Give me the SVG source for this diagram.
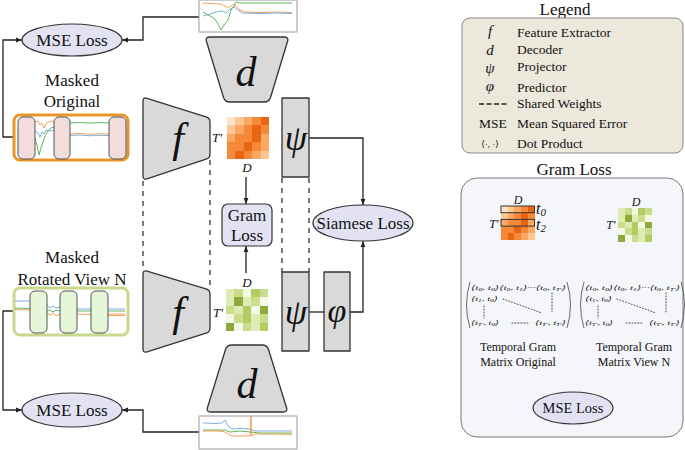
<svg xmlns="http://www.w3.org/2000/svg" xmlns:xlink="http://www.w3.org/1999/xlink" width="685" height="450" viewBox="0 0 685 450">
<style>
text{font-family:"Liberation Serif","DejaVu Serif",serif;fill:#111}
.lbl{font-size:17px;text-anchor:middle}
.math{font-style:italic;text-anchor:middle}
.blk{fill:#d9d9d9;stroke:#333;stroke-width:1.3;stroke-linejoin:round}
.loss{fill:#e2e2f2;stroke:#333;stroke-width:1.2}
.con{fill:none;stroke:#222;stroke-width:1.3}
.arr{marker-end:url(#ah)}
.dash{fill:none;stroke:#222;stroke-width:1.2;stroke-dasharray:5 5}
.ts{fill:none;stroke-width:0.8}
.or{stroke:#f28a2e}.bl{stroke:#5b9bd5}.gr{stroke:#3aa23a}
.pink{fill:#f3dcdc;stroke:#555;stroke-width:1}
.lgr{fill:#e6f6d9;stroke:#555;stroke-width:1}
.leg{font-size:13.5px}
.mx{font-size:6.6px;font-style:italic}
.dot{fill:none;stroke:#333;stroke-width:0.9;stroke-dasharray:0.9 2.1;stroke-linecap:round}
.o1{fill:#fde5cb}.o2{fill:#fcc793}.o3{fill:#faa862}.o4{fill:#f6883a}.o5{fill:#e8660f}
.g1{fill:#f4f8e4}.g2{fill:#e0ebb4}.g3{fill:#cbdd8c}.g4{fill:#b2cb62}.g5{fill:#90a93c}
</style>
<defs>
<marker id="ah" viewBox="0 0 10 10" refX="10" refY="5" markerWidth="6" markerHeight="6" orient="auto-start-reverse" markerUnits="userSpaceOnUse"><path d="M0,1 L10,5 L0,9 z" fill="#222"/></marker>
<g id="og" shape-rendering="crispEdges">
<rect class="o1" x="0" y="0" width="1.02" height="1.02"/><rect class="o2" x="1" y="0" width="1.02" height="1.02"/><rect class="o3" x="2" y="0" width="1.02" height="1.02"/><rect class="o4" x="3" y="0" width="1.02" height="1.02"/><rect class="o5" x="4" y="0" width="1" height="1.02"/>
<rect class="o2" x="0" y="1" width="1.02" height="1.02"/><rect class="o3" x="1" y="1" width="1.02" height="1.02"/><rect class="o4" x="2" y="1" width="1.02" height="1.02"/><rect class="o5" x="3" y="1" width="1.02" height="1.02"/><rect class="o4" x="4" y="1" width="1" height="1.02"/>
<rect class="o3" x="0" y="2" width="1.02" height="1.02"/><rect class="o4" x="1" y="2" width="1.02" height="1.02"/><rect class="o4" x="2" y="2" width="1.02" height="1.02"/><rect class="o5" x="3" y="2" width="1.02" height="1.02"/><rect class="o3" x="4" y="2" width="1" height="1.02"/>
<rect class="o4" x="0" y="3" width="1.02" height="1.02"/><rect class="o4" x="1" y="3" width="1.02" height="1.02"/><rect class="o5" x="2" y="3" width="1.02" height="1.02"/><rect class="o4" x="3" y="3" width="1.02" height="1.02"/><rect class="o3" x="4" y="3" width="1" height="1.02"/>
<rect class="o4" x="0" y="4" width="1.02" height="1"/><rect class="o5" x="1" y="4" width="1.02" height="1"/><rect class="o4" x="2" y="4" width="1.02" height="1"/><rect class="o3" x="3" y="4" width="1.02" height="1"/><rect class="o2" x="4" y="4" width="1" height="1"/>
</g>
<g id="gg" shape-rendering="crispEdges">
<rect class="g2" x="0" y="0" width="1.02" height="1.02"/><rect class="g3" x="1" y="0" width="1.02" height="1.02"/><rect class="g1" x="2" y="0" width="1.02" height="1.02"/><rect class="g4" x="3" y="0" width="1.02" height="1.02"/><rect class="g3" x="4" y="0" width="1" height="1.02"/>
<rect class="g2" x="0" y="1" width="1.02" height="1.02"/><rect class="g5" x="1" y="1" width="1.02" height="1.02"/><rect class="g2" x="2" y="1" width="1.02" height="1.02"/><rect class="g3" x="3" y="1" width="1.02" height="1.02"/><rect class="g1" x="4" y="1" width="1" height="1.02"/>
<rect class="g3" x="0" y="2" width="1.02" height="1.02"/><rect class="g2" x="1" y="2" width="1.02" height="1.02"/><rect class="g4" x="2" y="2" width="1.02" height="1.02"/><rect class="g1" x="3" y="2" width="1.02" height="1.02"/><rect class="g5" x="4" y="2" width="1" height="1.02"/>
<rect class="g1" x="0" y="3" width="1.02" height="1.02"/><rect class="g3" x="1" y="3" width="1.02" height="1.02"/><rect class="g4" x="2" y="3" width="1.02" height="1.02"/><rect class="g2" x="3" y="3" width="1.02" height="1.02"/><rect class="g3" x="4" y="3" width="1" height="1.02"/>
<rect class="g5" x="0" y="4" width="1.02" height="1"/><rect class="g1" x="1" y="4" width="1.02" height="1"/><rect class="g3" x="2" y="4" width="1.02" height="1"/><rect class="g2" x="3" y="4" width="1.02" height="1"/><rect class="g4" x="4" y="4" width="1" height="1"/>
</g>
</defs>
<rect width="685" height="450" fill="#fff"/>

<g id="connectors">
<path class="con arr" d="M199,17 H143 V40 H122"/>
<path class="con arr" d="M14,137 H3 V40 H22"/>
<path class="con arr" d="M246,177 V204"/>
<path class="con arr" d="M246,273 V246"/>
<path class="con arr" d="M309,138 H363 V205"/>
<path class="con" d="M309,312 H324"/>
<path class="con arr" d="M350,312 H363 V241"/>
<path class="con arr" d="M199,432 H143 V410 H122"/>
<path class="con arr" d="M14,311 H3 V410 H22"/>
<path class="dash" d="M143,181 V270"/>
<path class="dash" d="M210,160 V290"/>
<path class="dash" d="M282,178 V272"/>
<path class="dash" d="M309,178 V272"/>
<path class="con arr" d="M518,241 V280"/>
<path class="con arr" d="M635,243 V280"/>
<path class="con arr" d="M518,369 V408 H533"/>
<path class="con arr" d="M634,369 V408 H613"/>
</g>

<g id="mse-top">
<ellipse class="loss" cx="72" cy="40" rx="50" ry="16"/>
<text class="lbl" x="72" y="46">MSE Loss</text>
</g>

<g id="masked-original">
<text class="lbl" x="72" y="86">Masked</text>
<text class="lbl" x="72" y="107">Original</text>
<rect x="14" y="115" width="114" height="45" rx="6" fill="#fff" stroke="#e8962a" stroke-width="3"/>
<path class="ts or" d="M35,122 L38,121 L40,125 L42,123 L44,128 L46,124 L48,122 L52,121 L54,122"/>
<path class="ts bl" d="M35,131 L38,133 L40,137 L42,132 L44,134 L46,130 L50,131 L54,130"/>
<path class="ts gr" d="M35,138 L37,145 L39,155 L41,148 L43,142 L45,136 L48,131 L51,128 L54,127"/>
<path class="ts gr" d="M70,123 L80,122.5 L90,123.2 L100,122.6 L109,123"/>
<path class="ts or" d="M70,134 L80,133.5 L90,134.3 L100,133.7 L109,134"/>
<path class="ts bl" d="M70,135.5 L80,135 L90,135.8 L100,135.3 L109,135.6"/>
<rect class="pink" x="18" y="117" width="17" height="42" rx="5"/>
<rect class="pink" x="54" y="117" width="16" height="42" rx="5"/>
<rect class="pink" x="109" y="117" width="17" height="42" rx="5"/>
</g>

<g id="recon-top">
<rect x="199" y="0" width="98" height="32" fill="#fff" stroke="#999" stroke-width="1"/>
<path class="ts or" d="M203,3 L212,3.5 L220,4 L225,6 L228,8 L231,6 L234,4 L237,7 L240,10 L245,12 L260,12.5 L275,12 L292,12.5"/>
<path class="ts bl" d="M203,16 L210,14 L216,12 L222,11 L226,13 L230,9 L234,7 L238,10 L242,13 L260,13.5 L275,13 L292,13.5"/>
<path class="ts gr" d="M203,12 L208,15 L214,18 L218,24 L221,30 L224,25 L228,20 L231,10 L234,6 L236,2 L240,3 L260,3 L275,3 L292,3"/>
</g>

<g id="decoder-top">
<path class="blk" d="M210,37 L284,37 Q289,37 287.5,41.5 L270.5,97.5 Q269,102 264,102 L230,102 Q225,102 223.5,97.5 L206.5,41.5 Q205,37 210,37 Z"/>
<text class="math" x="246" y="86" font-size="42">d</text>
</g>

<g id="extractor-top">
<path class="blk" d="M143,101 Q143,97 147,98.3 L206,116.8 Q210,118 210,122 L210,154 Q210,158 206,159.2 L147,178.8 Q143,180 143,176 Z"/>
<text class="math" x="178" y="152" font-size="42">f</text>
</g>

<g id="gram-orange">
<use xlink:href="#og" href="#og" transform="translate(227,117) scale(8.4)"/>
<text class="math" x="217" y="142" font-size="13">T′</text>
<text class="math" x="247" y="172" font-size="13">D</text>
</g>

<g id="projector-top">
<rect class="blk" x="282" y="98" width="27" height="79"/>
<text class="math" x="296" y="150" font-size="36">ψ</text>
</g>

<g id="gram-loss">
<rect class="loss" x="222" y="204" width="50" height="42" rx="6"/>
<text class="lbl" x="247" y="221">Gram</text>
<text class="lbl" x="247" y="241">Loss</text>
</g>

<g id="siamese-loss">
<ellipse class="loss" cx="363" cy="223" rx="50" ry="18"/>
<text class="lbl" x="363" y="229" font-size="17.5">Siamese Loss</text>
</g>

<g id="masked-rotated">
<text class="lbl" x="72" y="263">Masked</text>
<text class="lbl" x="72" y="285">Rotated View N</text>
<rect x="14" y="288" width="114" height="47" rx="6" fill="#fff" stroke="#c8d98f" stroke-width="3"/>
<path class="ts bl" d="M15,301 L30,301"/>
<path class="ts gr" d="M15,308 L30,308.5"/>
<path class="ts or" d="M15,309.5 L30,310"/>
<path class="ts bl" d="M47,305 L50,308 L53,306 L56,308 L60,307"/>
<path class="ts gr" d="M47,311 L50,310 L53,312 L56,310 L60,311"/>
<path class="ts or" d="M47,313 L50,315 L53,313 L56,316 L60,314"/>
<path class="ts bl" d="M77,309 L91,309"/>
<path class="ts gr" d="M77,311 L91,311"/>
<path class="ts or" d="M77,314 L91,314.5"/>
<path class="ts bl" d="M108,309 L125,309"/>
<path class="ts gr" d="M108,311 L125,311"/>
<path class="ts or" d="M108,314 L125,314 M108,315.5 L125,315.5"/>
<rect class="lgr" x="30" y="291" width="17" height="42" rx="5"/>
<rect class="lgr" x="60" y="291" width="17" height="42" rx="5"/>
<rect class="lgr" x="91" y="291" width="17" height="42" rx="5"/>
</g>

<g id="extractor-bottom">
<path class="blk" d="M143,274 Q143,270 147,271.2 L206,288.8 Q210,290 210,294 L210,328 Q210,332 206,333.2 L147,351.8 Q143,353 143,349 Z"/>
<text class="math" x="178" y="326" font-size="42">f</text>
</g>

<g id="gram-green">
<use xlink:href="#gg" href="#gg" transform="translate(226,289) scale(8.4)"/>
<text class="math" x="247" y="287" font-size="13">D</text>
<text class="math" x="218" y="317" font-size="13">T′</text>
</g>

<g id="projector-bottom">
<rect class="blk" x="282" y="272" width="27" height="79"/>
<text class="math" x="296" y="324" font-size="36">ψ</text>
</g>

<g id="predictor">
<rect class="blk" x="324" y="272" width="26" height="79"/>
<text class="math" x="337" y="322" font-size="34">φ</text>
</g>

<g id="decoder-bottom">
<path class="blk" d="M232,345 L262,345 Q267,345 268.5,349.5 L286.5,407.5 Q288,412 283,412 L211,412 Q206,412 207.5,407.5 L225.5,349.5 Q227,345 232,345 Z"/>
<text class="math" x="247" y="398" font-size="42">d</text>
</g>

<g id="recon-bottom">
<rect x="199" y="416" width="98" height="33" fill="#fff" stroke="#999" stroke-width="1"/>
<path class="ts bl" d="M203,423 L215,423.5 L222,423 L225,420 L228,426 L232,429 L240,428.5 L250,429 L255,431 L275,431 L292,431"/>
<path class="ts gr" d="M203,430 L215,430 L225,430 L230,432 L240,431 L250,432 L260,433 L275,433 L292,433"/>
<path class="ts or" d="M203,431 L215,431 L224,431.5 L228,434 L232,436 L240,436 L250,436 L251,416 L251.5,436 L255,434 L275,434 L292,434.5"/>
</g>

<g id="mse-bottom">
<ellipse class="loss" cx="72" cy="410" rx="50" ry="17"/>
<text class="lbl" x="72" y="416">MSE Loss</text>
</g>

<g id="legend">
<text class="lbl" x="565" y="15" font-size="16">Legend</text>
<rect x="462" y="18" width="221" height="135" rx="8" fill="#ede8dc" stroke="#888" stroke-width="1"/>
<text class="math" x="490" y="36" font-size="15">f</text>
<text class="leg" x="517" y="37">Feature Extractor</text>
<text class="math" x="490" y="55" font-size="15">d</text>
<text class="leg" x="517" y="54">Decoder</text>
<text class="math" x="490" y="73" font-size="15">ψ</text>
<text class="leg" x="517" y="71">Projector</text>
<text class="math" x="490" y="91" font-size="15">φ</text>
<text class="leg" x="517" y="92">Predictor</text>
<path d="M479,104 H509" stroke="#222" stroke-width="1.4" stroke-dasharray="5 2.5" fill="none"/>
<text class="leg" x="517" y="108">Shared Weights</text>
<text class="leg" x="493" y="128" text-anchor="middle">MSE</text>
<text class="leg" x="517" y="128">Mean Squared Error</text>
<text x="490" y="147" font-size="9" text-anchor="middle">⟨·, ·⟩</text>
<text class="leg" x="517" y="148">Dot Product</text>
</g>

<g id="gram-section">
<text class="lbl" x="574" y="175">Gram Loss</text>
<rect x="461" y="178" width="222" height="259" rx="16" fill="#f5f6f9" stroke="#777" stroke-width="1"/>
<use xlink:href="#og" href="#og" transform="translate(501,206) scale(6.7)"/>
<rect x="501" y="206" width="33.5" height="6.7" fill="none" stroke="#333" stroke-width="1"/>
<rect x="501" y="219.4" width="33.5" height="6.7" fill="none" stroke="#333" stroke-width="1"/>
<text class="math" x="518" y="204" font-size="12">D</text>
<text class="math" x="494" y="228" font-size="12">T′</text>
<text x="536" y="214" font-size="16" font-style="italic">t<tspan font-size="11" dy="2">0</tspan></text>
<text x="536" y="230" font-size="16" font-style="italic">t<tspan font-size="11" dy="2">2</tspan></text>
<use xlink:href="#gg" href="#gg" transform="translate(618,208) scale(6.8)"/>
<text class="math" x="636" y="206" font-size="12">D</text>
<text class="math" x="611" y="229" font-size="12">T′</text>
<g id="matrix-original">
<path d="M470,282 Q463,305 470,328" fill="none" stroke="#444" stroke-width="0.8"/>
<path d="M567,282 Q574,305 567,328" fill="none" stroke="#444" stroke-width="0.8"/>
<text class="mx" x="471" y="290" textLength="95" lengthAdjust="spacingAndGlyphs">⟨t<tspan dy="1.3" font-size="4.6">0</tspan><tspan dy="-1.3">, t</tspan><tspan dy="1.3" font-size="4.6">0</tspan><tspan dy="-1.3">⟩⟨t</tspan><tspan dy="1.3" font-size="4.6">0</tspan><tspan dy="-1.3">, t</tspan><tspan dy="1.3" font-size="4.6">1</tspan><tspan dy="-1.3">⟩···⟨t</tspan><tspan dy="1.3" font-size="4.6">0</tspan><tspan dy="-1.3">, t</tspan><tspan dy="1.3" font-size="4.6">T′</tspan><tspan dy="-1.3">⟩</tspan></text>
<text class="mx" x="471" y="301" textLength="27" lengthAdjust="spacingAndGlyphs">⟨t<tspan dy="1.3" font-size="4.6">1</tspan><tspan dy="-1.3">, t</tspan><tspan dy="1.3" font-size="4.6">0</tspan><tspan dy="-1.3">⟩</tspan></text>
<path class="dot" d="M503,299 L542,313"/>
<path class="dot" d="M484,306 V318"/>
<path class="dot" d="M552,293 V312"/>
<text class="mx" x="471" y="325" textLength="28" lengthAdjust="spacingAndGlyphs">⟨t<tspan dy="1.3" font-size="4.6">T′</tspan><tspan dy="-1.3">, t</tspan><tspan dy="1.3" font-size="4.6">0</tspan><tspan dy="-1.3">⟩</tspan></text>
<path class="dot" d="M512,323 H529"/>
<text class="mx" x="535" y="325" textLength="31" lengthAdjust="spacingAndGlyphs">⟨t<tspan dy="1.3" font-size="4.6">T′</tspan><tspan dy="-1.3">, t</tspan><tspan dy="1.3" font-size="4.6">T′</tspan><tspan dy="-1.3">⟩</tspan></text>
</g>
<g id="matrix-view" transform="translate(114,0)">
<path d="M470,282 Q463,305 470,328" fill="none" stroke="#444" stroke-width="0.8"/>
<path d="M567,282 Q574,305 567,328" fill="none" stroke="#444" stroke-width="0.8"/>
<text class="mx" x="471" y="290" textLength="95" lengthAdjust="spacingAndGlyphs">⟨t<tspan dy="1.3" font-size="4.6">0</tspan><tspan dy="-1.3">, t</tspan><tspan dy="1.3" font-size="4.6">0</tspan><tspan dy="-1.3">⟩⟨t</tspan><tspan dy="1.3" font-size="4.6">0</tspan><tspan dy="-1.3">, t</tspan><tspan dy="1.3" font-size="4.6">1</tspan><tspan dy="-1.3">⟩···⟨t</tspan><tspan dy="1.3" font-size="4.6">0</tspan><tspan dy="-1.3">, t</tspan><tspan dy="1.3" font-size="4.6">T′</tspan><tspan dy="-1.3">⟩</tspan></text>
<text class="mx" x="471" y="301" textLength="27" lengthAdjust="spacingAndGlyphs">⟨t<tspan dy="1.3" font-size="4.6">1</tspan><tspan dy="-1.3">, t</tspan><tspan dy="1.3" font-size="4.6">0</tspan><tspan dy="-1.3">⟩</tspan></text>
<path class="dot" d="M503,299 L542,313"/>
<path class="dot" d="M484,306 V318"/>
<path class="dot" d="M552,293 V312"/>
<text class="mx" x="471" y="325" textLength="28" lengthAdjust="spacingAndGlyphs">⟨t<tspan dy="1.3" font-size="4.6">T′</tspan><tspan dy="-1.3">, t</tspan><tspan dy="1.3" font-size="4.6">0</tspan><tspan dy="-1.3">⟩</tspan></text>
<path class="dot" d="M512,323 H529"/>
<text class="mx" x="535" y="325" textLength="31" lengthAdjust="spacingAndGlyphs">⟨t<tspan dy="1.3" font-size="4.6">T′</tspan><tspan dy="-1.3">, t</tspan><tspan dy="1.3" font-size="4.6">T′</tspan><tspan dy="-1.3">⟩</tspan></text>
</g>
<text x="518" y="351" font-size="12" text-anchor="middle">Temporal Gram</text>
<text x="518" y="366" font-size="12" text-anchor="middle">Matrix Original</text>
<text x="634" y="351" font-size="12" text-anchor="middle">Temporal Gram</text>
<text x="634" y="366" font-size="12" text-anchor="middle">Matrix View N</text>
<ellipse class="loss" cx="573" cy="408" rx="40" ry="16"/>
<text x="573" y="413" font-size="14.5" text-anchor="middle">MSE Loss</text>
</g>
</svg>
